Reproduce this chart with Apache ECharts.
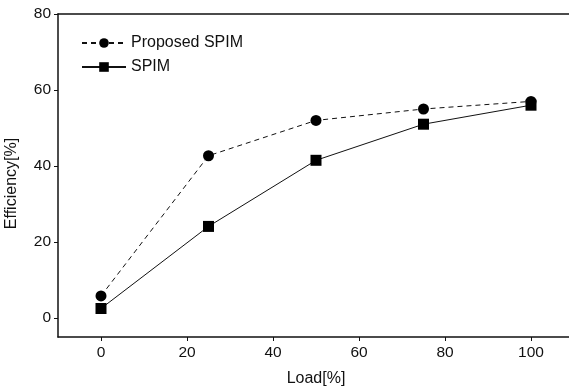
<!DOCTYPE html>
<html><head><meta charset="utf-8">
<script src="https://cdn.jsdelivr.net/npm/echarts@6/dist/echarts.min.js"></script>
<style>html,body{margin:0;padding:0;background:#fff}#c{width:569px;height:391px}</style>
</head><body><div id="c"></div>
<script>
const loads = [0, 25, 50, 75, 100];
const proposedSPIM = [5.8, 42.7, 52.0, 55.0, 57.0];
const spim = [2.5, 24.1, 41.5, 51.0, 56.0];
const xTicks = [0, 20, 40, 60, 80, 100];
const yTicks = [0, 20, 40, 60, 80];
const seriesNames = ['Proposed SPIM', 'SPIM'];

const font = 'Liberation Sans, Arial, sans-serif';
const chart = echarts.init(document.getElementById('c'), null, {renderer: 'canvas'});
chart.setOption({
  animation: false,
  backgroundColor: '#fff',
  grid: {left: 58, top: 14, width: 516, height: 323, show: false, containLabel: false, outerBoundsMode: 'none'},
  legend: {
    orient: 'vertical', left: 76, top: 30, itemGap: 8, itemWidth: 44, itemHeight: 12,
    textStyle: {fontFamily: font, fontSize: 16, color: '#111'},
    data: seriesNames
  },
  xAxis: [{
    type: 'value', min: -10, max: 110,
    name: 'Load[%]', nameLocation: 'middle', nameGap: 34,
    nameTextStyle: {fontFamily: font, fontSize: 16, color: '#111'},
    axisLine: {show: true, onZero: false, lineStyle: {color: '#111', width: 1.5}},
    axisTick: {show: true, length: 4, customValues: xTicks, lineStyle: {color: '#111'}},
    axisLabel: {customValues: xTicks, fontFamily: font, fontSize: 15.5, color: '#111', margin: 8},
    splitLine: {show: false}
  }, {
    type: 'value', min: -10, max: 110, position: 'top',
    axisLine: {show: true, onZero: false, lineStyle: {color: '#111', width: 1.5}},
    axisTick: {show: false}, axisLabel: {show: false}, splitLine: {show: false}
  }],
  yAxis: {
    type: 'value', min: -5, max: 80,
    name: 'Efficiency[%]', nameLocation: 'middle', nameGap: 38, nameRotate: 90,
    nameTextStyle: {fontFamily: font, fontSize: 16, color: '#111', padding: [0, 16, 0, 0]},
    axisLine: {show: true, onZero: false, lineStyle: {color: '#111', width: 1.5}},
    axisTick: {show: true, length: 4, customValues: yTicks, lineStyle: {color: '#111'}},
    axisLabel: {customValues: yTicks, fontFamily: font, fontSize: 15.5, color: '#111', margin: 7},
    splitLine: {show: false}
  },
  series: [
    {
      name: seriesNames[0], type: 'line',
      data: loads.map((x, i) => [x, proposedSPIM[i]]),
      symbol: 'circle', symbolSize: 11,
      itemStyle: {color: '#000'},
      lineStyle: {color: '#111', width: 1, type: [5, 4]}
    },
    {
      name: seriesNames[1], type: 'line',
      data: loads.map((x, i) => [x, spim[i]]),
      symbol: 'rect', symbolSize: 11,
      itemStyle: {color: '#000'},
      lineStyle: {color: '#111', width: 1, type: 'solid'}
    }
  ]
});
</script></body></html>
